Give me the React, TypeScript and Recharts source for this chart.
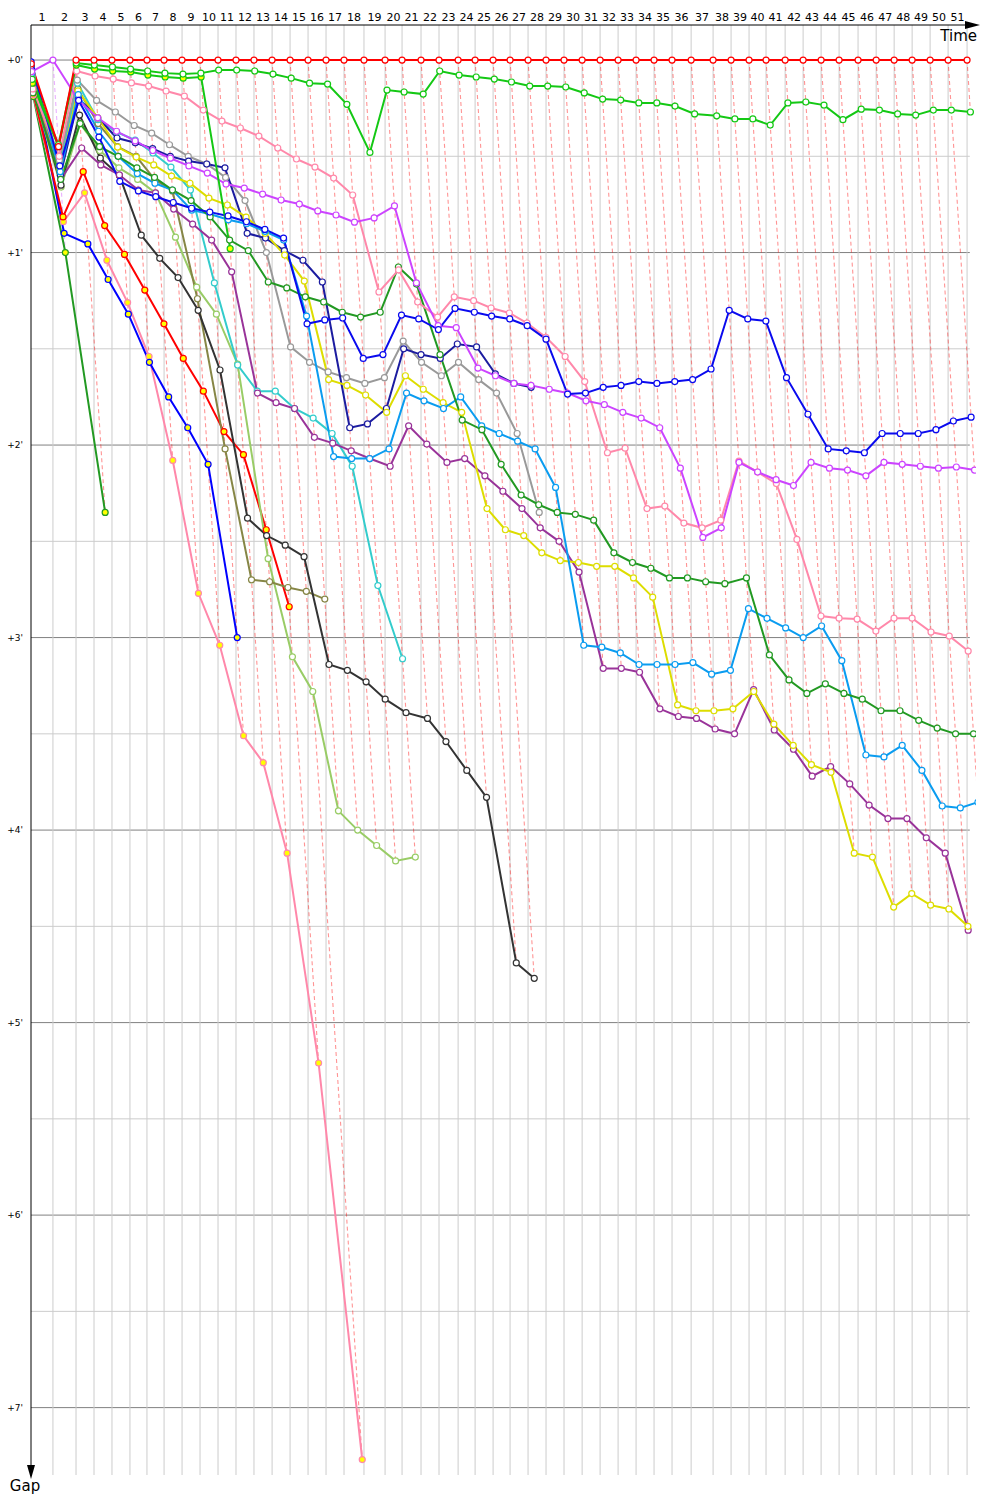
import React from 'react';
import { LineChart, Line, XAxis, YAxis, Label } from 'recharts';

// Leader's cumulative race time (minutes) at the end of each lap; index = lap (0 = start)
const leaderTime = [
  0, 1.77, 3.63, 5.08, 6.53, 7.98, 9.35, 10.73, 12.18, 13.63, 15.08,
  16.53, 17.98, 19.44, 20.89, 22.34, 23.79, 25.24, 26.85, 28.55, 29.92,
  31.45, 32.9, 34.44, 35.81, 37.26, 38.63, 40.08, 41.53, 42.98, 44.44,
  45.89, 47.34, 48.79, 50.24, 51.69, 53.23, 55.0, 56.45, 57.9, 59.27,
  60.81, 62.26, 63.71, 65.16, 66.69, 68.15, 69.6, 71.05, 72.5, 73.95, 75.48,
];

const lapLabels = [
  '1', '2', '3', '4', '5', '6', '7', '8', '9', '10', '11', '12', '13', '14', '15', '16', '17',
  '18', '19', '20', '21', '22', '23', '24', '25', '26', '27', '28', '29', '30', '31', '32', '33',
  '34', '35', '36', '37', '38', '39', '40', '41', '42', '43', '44', '45', '46', '47', '48', '49',
  '50', '51',
];

const gapTicks = [0, 1, 2, 3, 4, 5, 6, 7];
const gapGrid = [0, 0.5, 1, 1.5, 2, 2.5, 3, 3.5, 4, 4.5, 5, 5.5, 6, 6.5, 7];

// gap to leader (minutes), index = lap
const gapRed = [0.02, 0.45, 0, 0, 0, 0, 0, 0, 0, 0, 0, 0, 0, 0, 0, 0, 0, 0, 0, 0, 0, 0, 0, 0, 0, 0,
  0, 0, 0, 0, 0, 0, 0, 0, 0, 0, 0, 0, 0, 0, 0, 0, 0, 0, 0, 0, 0, 0, 0, 0, 0, 0];
const gapGreen = [0.1, 0.44, 0.016, 0.026, 0.036, 0.047, 0.057, 0.068, 0.073, 0.068, 0.052, 0.052,
  0.057, 0.073, 0.094, 0.12, 0.125, 0.23, 0.48, 0.156, 0.166, 0.177, 0.057, 0.078, 0.088, 0.099,
  0.114, 0.135, 0.135, 0.14, 0.171, 0.203, 0.208, 0.223, 0.223, 0.239, 0.28, 0.29, 0.306, 0.306,
  0.338, 0.223, 0.218, 0.234, 0.31, 0.255, 0.26, 0.28, 0.286, 0.26, 0.26, 0.27];
const gapGreenB = [0.12, 0.45, 0.026, 0.047, 0.057, 0.062, 0.078, 0.088, 0.094, 0.088, 0.98];
const gapPink = [0.15, 0.5, 0.057, 0.083, 0.099, 0.119, 0.135, 0.161, 0.187, 0.26, 0.317, 0.353,
  0.395, 0.457, 0.514, 0.556, 0.613, 0.701, 1.205, 1.09, 1.257, 1.335, 1.23, 1.25, 1.288, 1.314,
  1.366, 1.44, 1.54, 1.67, 2.04, 2.016, 2.33, 2.317, 2.405, 2.43, 2.39, 2.083, 2.14, 2.2, 2.49,
  2.888, 2.899, 2.904, 2.966, 2.899, 2.899, 2.971, 2.992, 3.07];
const gapViolet = [0.06, 0, 0.21, 0.3, 0.37, 0.42, 0.47, 0.51, 0.55, 0.587, 0.644, 0.665, 0.696,
  0.727, 0.748, 0.784, 0.805, 0.842, 0.82, 0.758, 1.158, 1.38, 1.39, 1.6, 1.64, 1.68, 1.69, 1.71,
  1.73, 1.77, 1.79, 1.83, 1.86, 1.91, 2.12, 2.48, 2.43, 2.09, 2.14, 2.18, 2.21, 2.09, 2.12, 2.13,
  2.16, 2.09, 2.1, 2.11, 2.12, 2.114, 2.13];
const gapBlue = [0.01, 0.55, 0.21, 0.4, 0.63, 0.68, 0.71, 0.74, 0.77, 0.79, 0.81, 0.84, 0.88,
  0.925, 1.37, 1.35, 1.34, 1.55, 1.53, 1.325, 1.345, 1.4, 1.29, 1.31, 1.33, 1.345, 1.38, 1.45,
  1.735, 1.73, 1.7, 1.69, 1.67, 1.68, 1.67, 1.66, 1.605, 1.3, 1.345, 1.356, 1.65, 1.84, 2.02, 2.03,
  2.04, 1.94, 1.94, 1.94, 1.92, 1.875, 1.855];
const gapNavy = [0.03, 0.6, 0.2, 0.3, 0.405, 0.43, 0.46, 0.5, 0.525, 0.54, 0.56, 0.9, 0.925, 0.99,
  1.04, 1.153, 1.91, 1.89, 1.81, 1.5, 1.53, 1.55, 1.475, 1.49, 1.63, 1.68, 1.7];
const gapGrey = [0.08, 0.52, 0.104, 0.21, 0.27, 0.34, 0.38, 0.44, 0.5, 0.54, 0.61, 0.73, 1.0, 1.49,
  1.57, 1.62, 1.65, 1.68, 1.65, 1.46, 1.57, 1.64, 1.57, 1.66, 1.73, 1.94, 2.35];
const gapYellow = [0.11, 0.57, 0.16, 0.3, 0.452, 0.504, 0.545, 0.603, 0.64, 0.717, 0.753, 0.816,
  0.9, 1.013, 1.148, 1.66, 1.69, 1.74, 1.83, 1.64, 1.71, 1.78, 1.83, 2.33, 2.44, 2.47, 2.56, 2.6,
  2.61, 2.63, 2.63, 2.69, 2.79, 3.35, 3.38, 3.38, 3.37, 3.28, 3.45, 3.56, 3.66, 3.7, 4.12, 4.14,
  4.4, 4.33, 4.39, 4.41, 4.5];
const gapTurquoise = [0.09, 0.55, 0.12, 0.31, 0.374, 0.416, 0.483, 0.556, 0.675, 1.158, 1.584,
  1.72, 1.72, 1.81, 1.86, 1.94, 2.11, 2.73, 3.11];
const gapDarkGreen = [0.17, 0.62, 0.33, 0.45, 0.5, 0.56, 0.61, 0.675, 0.73, 0.815, 0.935, 0.99,
  1.153, 1.184, 1.23, 1.257, 1.31, 1.335, 1.31, 1.075, 1.164, 1.53, 1.87, 1.92, 2.1, 2.26, 2.31,
  2.35, 2.36, 2.39, 2.56, 2.61, 2.64, 2.69, 2.69, 2.71, 2.72, 2.69, 3.09, 3.22, 3.29, 3.24, 3.29,
  3.32, 3.38, 3.38, 3.43, 3.47, 3.5, 3.5];
const gapPurple = [0.13, 0.62, 0.457, 0.545, 0.597, 0.675, 0.69, 0.774, 0.852, 0.935, 1.1, 1.73,
  1.78, 1.81, 1.96, 1.99, 2.03, 2.07, 2.11, 1.9, 1.995, 2.09, 2.07, 2.16, 2.24, 2.33, 2.43, 2.5,
  2.66, 3.16, 3.16, 3.18, 3.37, 3.41, 3.42, 3.475, 3.5, 3.27, 3.48, 3.58, 3.72, 3.67, 3.76, 3.87,
  3.94, 3.94, 4.04, 4.12, 4.52];
const gapSky = [0.07, 0.58, 0.18, 0.37, 0.5, 0.59, 0.64, 0.675, 0.78, 0.8, 0.83, 0.85, 0.89, 0.935,
  1.33, 2.06, 2.07, 2.07, 2.02, 1.73, 1.77, 1.81, 1.75, 1.9, 1.94, 1.98, 2.02, 2.22, 3.04, 3.05,
  3.08, 3.14, 3.14, 3.14, 3.13, 3.19, 3.17, 2.85, 2.9, 2.95, 3.0, 2.94, 3.12, 3.61, 3.62, 3.56,
  3.69, 3.875, 3.885, 3.855];
const gapBlack = [0.12, 0.65, 0.286, 0.51, 0.6, 0.91, 1.03, 1.13, 1.3, 1.61, 2.38, 2.47, 2.52,
  2.58, 3.14, 3.17, 3.23, 3.32, 3.39, 3.42, 3.54, 3.69, 3.83, 4.69, 4.77];
const gapOlive = [0.14, 0.6, 0.15, 0.33, 0.45, 0.5, 0.62, 0.68, 1.24, 2.02, 2.7, 2.71, 2.74, 2.76, 2.8];
const gapLightGreen = [0.16, 0.66, 0.33, 0.47, 0.56, 0.62, 0.69, 0.92, 1.18, 1.32, 1.58, 2.59,
  3.1, 3.28, 3.9, 4.0, 4.08, 4.16, 4.14];
const gapRedB = [0.17, 0.815, 0.58, 0.86, 1.01, 1.195, 1.37, 1.55, 1.72, 1.93, 2.05, 2.44, 2.84];
const gapBlueB = [0.05, 0.9, 0.955, 1.14, 1.32, 1.57, 1.75, 1.91, 2.1, 3.0];
const gapPinkB = [0.18, 0.84, 0.69, 1.04, 1.26, 1.54, 2.08, 2.77, 3.04, 3.51, 3.65, 4.12, 5.21, 7.27];
const gapDarkGreenB = [0.19, 1.0, 2.35];

type Car = { id: string; color: string; fill: string; gaps: number[] };

// drawing order: back to front
const cars: Car[] = [
  { id: 'darkgreenB', color: '#229922', fill: '#ffff00', gaps: gapDarkGreenB },
  { id: 'pinkB', color: '#ff88aa', fill: '#ffff00', gaps: gapPinkB },
  { id: 'blueB', color: '#0000ff', fill: '#ffff00', gaps: gapBlueB },
  { id: 'redB', color: '#ff0000', fill: '#ffff00', gaps: gapRedB },
  { id: 'lightgreen', color: '#99cc66', fill: '#ffffff', gaps: gapLightGreen },
  { id: 'olive', color: '#868646', fill: '#ffffff', gaps: gapOlive },
  { id: 'black', color: '#333333', fill: '#ffffff', gaps: gapBlack },
  { id: 'turquoise', color: '#33cccc', fill: '#ffffff', gaps: gapTurquoise },
  { id: 'grey', color: '#999999', fill: '#ffffff', gaps: gapGrey },
  { id: 'navy', color: '#1c1ca0', fill: '#ffffff', gaps: gapNavy },
  { id: 'purple', color: '#993399', fill: '#ffffff', gaps: gapPurple },
  { id: 'yellow', color: '#dddd00', fill: '#ffffff', gaps: gapYellow },
  { id: 'sky', color: '#0a9cf0', fill: '#ffffff', gaps: gapSky },
  { id: 'darkgreen', color: '#229922', fill: '#ffffff', gaps: gapDarkGreen },
  { id: 'pink', color: '#ff88aa', fill: '#ffffff', gaps: gapPink },
  { id: 'violet', color: '#cc44ff', fill: '#ffffff', gaps: gapViolet },
  { id: 'blue', color: '#0a0aee', fill: '#ffffff', gaps: gapBlue },
  { id: 'greenB', color: '#14c814', fill: '#ffff00', gaps: gapGreenB },
  { id: 'green', color: '#14c814', fill: '#ffffff', gaps: gapGreen },
  { id: 'red', color: '#ff0000', fill: '#ffffff', gaps: gapRed },
];

const FONT = '"DejaVu Sans", Verdana, sans-serif';
const X_MAX = 76.2;
const Y_MIN = -0.182;
const Y_MAX = 7.35;
const GRID_END = 75.7;

const toPoints = (gaps: number[]) => gaps.map((g, lap) => ({ x: leaderTime[lap] + g, y: g }));

const lapTicks = lapLabels.map((_, i) => (leaderTime[i] + leaderTime[i + 1]) / 2);

// dashed "lap lines": from leader crossing to the last car on that lap
const lapLines = lapLabels.map((_, i) => {
  const lap = i + 1;
  let maxGap = 0;
  let minGap = Infinity;
  let leaderColor = '#ff0000';
  cars.forEach((c) => {
    if (c.gaps.length > lap) {
      const g = c.gaps[lap];
      if (g > maxGap) maxGap = g;
      if (g < minGap) {
        minGap = g;
        leaderColor = c.color;
      }
    }
  });
  return {
    lap,
    color: leaderColor,
    data: [
      { x: leaderTime[lap], y: 0 },
      { x: leaderTime[lap] + maxGap, y: maxGap },
    ],
  };
});

const TimeLabel = (props: any) => {
  const vb = props.viewBox || { x: 31, y: 0, width: 945, height: 25 };
  const x = vb.x + vb.width;
  const y = vb.y + vb.height;
  return (
    <g>
      <polygon points={`${x - 11},${y - 4} ${x + 4},${y} ${x - 11},${y + 4}`} fill="#000" />
      <text x={x + 1} y={y + 16} textAnchor="end" fontSize={15} fontFamily={FONT} fill="#000">
        Time
      </text>
    </g>
  );
};

const GapLabel = (props: any) => {
  const vb = props.viewBox || { x: 0, y: 25, width: 31, height: 1450 };
  const x = vb.x + vb.width;
  const y = vb.y + vb.height;
  return (
    <g>
      <polygon points={`${x - 4},${y - 10} ${x},${y + 4} ${x + 4},${y - 10}`} fill="#000" />
      <text x={x - 6} y={y + 16} textAnchor="middle" fontSize={15} fontFamily={FONT} fill="#000">
        Gap
      </text>
    </g>
  );
};

export default function App() {
  return (
    <div style={{ position: 'absolute', left: 0, top: 0, width: 1000, height: 1500, background: '#fff' }}>
      <LineChart
        width={1000}
        height={1500}
        margin={{ top: 0, right: 24, bottom: 25, left: 0 }}
        style={{ fontFamily: FONT }}
      >
        <XAxis
          type="number"
          dataKey="x"
          orientation="top"
          height={25}
          domain={[0, X_MAX]}
          allowDataOverflow
          ticks={lapTicks}
          interval={0}
          tickFormatter={(_v: number, i: number) => lapLabels[i]}
          tickLine={false}
          tickSize={3}
          tickMargin={1}
          axisLine={{ stroke: '#000', strokeWidth: 1 }}
          tick={{ fill: '#000', fontSize: 11, fontFamily: FONT }}
        >
          <Label content={TimeLabel} />
        </XAxis>
        <YAxis
          type="number"
          dataKey="y"
          width={31}
          reversed
          domain={[Y_MIN, Y_MAX]}
          allowDataOverflow
          ticks={gapTicks}
          interval={0}
          tickFormatter={(v: number) => `+${v}'`}
          tickLine={false}
          axisLine={{ stroke: '#000', strokeWidth: 1 }}
          tick={{ fill: '#000', fontSize: 9, fontFamily: FONT }}
        >
          <Label content={GapLabel} />
        </YAxis>

        {gapGrid.map((v) => (
          <Line
            key={`h${v}`}
            data={[{ x: 0, y: v }, { x: GRID_END, y: v }]}
            dataKey="y"
            stroke={Number.isInteger(v) ? '#808080' : '#cccccc'}
            strokeWidth={1}
            dot={false}
            activeDot={false}
            isAnimationActive={false}
          />
        ))}
        {lapLabels.map((_, i) => (
          <Line
            key={`v${i}`}
            data={[{ x: leaderTime[i + 1], y: Y_MIN }, { x: leaderTime[i + 1], y: Y_MAX }]}
            dataKey="y"
            stroke="#cccccc"
            strokeWidth={1}
            dot={false}
            activeDot={false}
            isAnimationActive={false}
          />
        ))}
        {lapLines.map((l) => (
          <Line
            key={`d${l.lap}`}
            data={l.data}
            dataKey="y"
            stroke={l.color}
            strokeOpacity={0.42}
            strokeWidth={1.1}
            strokeDasharray="4 3"
            dot={false}
            activeDot={false}
            isAnimationActive={false}
          />
        ))}
        {cars.map((c) => (
          <Line
            key={c.id}
            data={toPoints(c.gaps)}
            dataKey="y"
            stroke={c.color}
            strokeWidth={2}
            dot={{ r: 3, fill: c.fill, stroke: c.color, strokeWidth: 1.2 }}
            activeDot={false}
            isAnimationActive={false}
          />
        ))}
      </LineChart>
    </div>
  );
}
